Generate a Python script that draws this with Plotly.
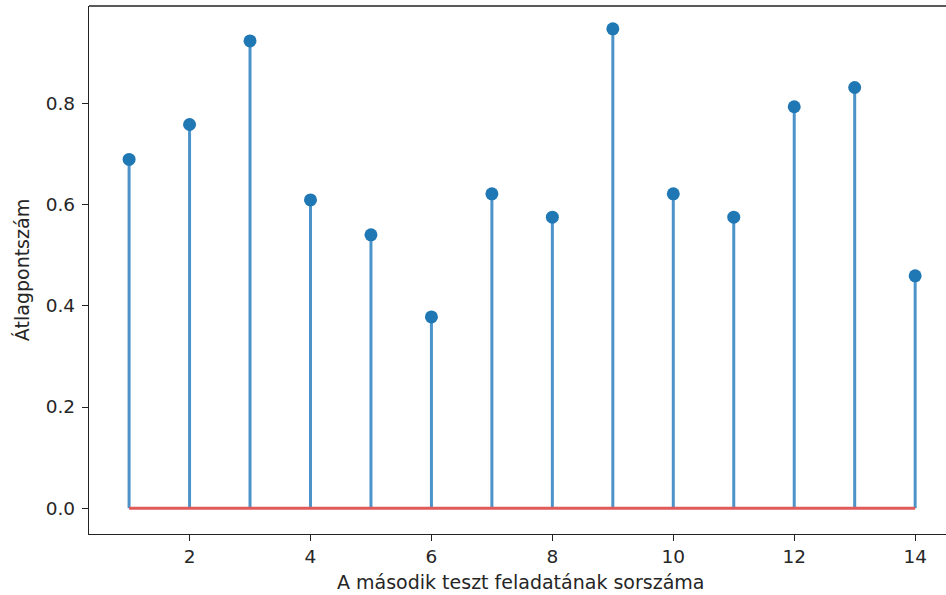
import plotly.graph_objects as go

tasks = list(range(1, 15))
scores = [0.689, 0.758, 0.923, 0.609, 0.540, 0.378, 0.621, 0.575, 0.947, 0.621, 0.575, 0.793, 0.831, 0.459]
x_ticks = [2, 4, 6, 8, 10, 12, 14]
y_ticks = [0.0, 0.2, 0.4, 0.6, 0.8]
x_title = "A második teszt feladatának sorszáma"
y_title = "Átlagpontszám"

stem_x, stem_y = [], []
for t, s in zip(tasks, scores):
    stem_x += [t, t, None]
    stem_y += [0, s, None]

fig = go.Figure()
fig.add_trace(go.Scatter(x=stem_x, y=stem_y, mode="lines",
                         line=dict(color="#4b93c9", width=3), hoverinfo="skip"))
fig.add_trace(go.Scatter(x=[tasks[0], tasks[-1]], y=[0, 0], mode="lines",
                         line=dict(color="#e05a5a", width=3), hoverinfo="skip"))
fig.add_trace(go.Scatter(x=tasks, y=scores, mode="markers",
                         marker=dict(color="#1f77b4", size=13)))

axis_common = dict(showgrid=False, zeroline=False, showline=True, linecolor="#222",
                   linewidth=1.4, ticks="outside", ticklen=6, tickwidth=1.4,
                   tickcolor="#222", tickfont=dict(family="DejaVu Sans", size=18.5, color="#262626"))

fig.update_layout(
    width=946, height=595,
    margin=dict(l=89, r=0, t=6, b=61),
    plot_bgcolor="white", paper_bgcolor="white",
    showlegend=False,
    xaxis=dict(range=[0.337, 14.51], tickvals=x_ticks, **axis_common),
    yaxis=dict(range=[-0.0508, 0.992], tickvals=y_ticks, tickformat=".1f",
               ticklabelstandoff=3, **axis_common),
    shapes=[dict(type="line", xref="paper", yref="paper", x0=0, x1=1, y0=1, y1=1,
                 line=dict(color="#222", width=1.4))],
    annotations=[
        dict(text=x_title, xref="paper", yref="paper", x=0.504, y=-0.091, yanchor="middle",
             showarrow=False, font=dict(family="DejaVu Sans", size=19, color="#262626")),
        dict(text=y_title, xref="paper", yref="paper", x=-0.078, y=0.5, xanchor="center",
             yanchor="middle", textangle=-90, showarrow=False,
             font=dict(family="DejaVu Sans", size=19, color="#262626")),
    ],
)
fig.write_html("out.html")
